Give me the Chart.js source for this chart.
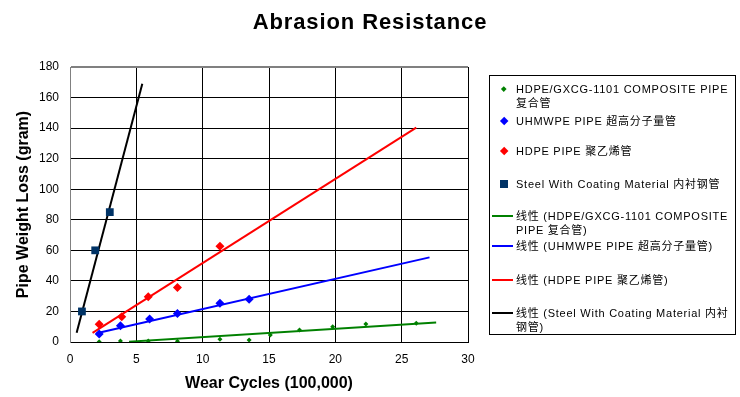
<!DOCTYPE html>
<html>
<head>
<meta charset="utf-8">
<script src="https://cdn.jsdelivr.net/npm/chart.js@4"></script>
<style>
  body { margin: 0; background: #fff; font-family: "Liberation Sans", Arial, "Noto Sans CJK SC", sans-serif; }
  #wrap { position: relative; width: 740px; height: 397px; }
  #chart { position: absolute; left: 0; top: 0; }
  #title { position: absolute; left: 0; top: 9px; width: 740px; text-align: center; font-weight: bold; font-size: 22px; letter-spacing: 0.9px; }
  #legend { position: absolute; left: 489px; top: 75px; width: 245px; height: 258px; border: 1px solid #000; font-size: 11px; letter-spacing: 0.75px; }
  .item { position: absolute; left: 0; line-height: 14px; }
  .item .txt { position: absolute; left: 26px; width: 225px; white-space: nowrap; }
  .sym { position: absolute; }
</style>
</head>
<body>
<div id="wrap">
  <canvas id="chart" width="740" height="397"></canvas>
  <div id="title">Abrasion Resistance</div>
  <div id="legend"></div>
</div>
<script>
  // measured points
  const compX = [2.2, 3.8, 5.9, 8.1, 11.3, 13.5, 15.1, 17.3, 19.8, 22.3, 26.1];
  const compY = [0.2, 0.7, 0.7, 0.5, 1.8, 1.3, 4.6, 7.9, 10.0, 11.8, 12.3];
  const uhmwX = [2.2, 3.8, 6.0, 8.1, 11.3, 13.5];
  const uhmwY = [5.3, 10.7, 15.1, 18.6, 25.4, 28.0];
  const hdpeX = [2.2, 3.9, 5.9, 8.1, 11.3];
  const hdpeY = [11.6, 16.6, 29.6, 35.7, 62.6];
  const steelX = [0.9, 1.9, 3.0];
  const steelY = [20, 60, 85];

  // trend line ends (linear fits as drawn)
  const compTrendX = [4.45, 27.6];
  const compTrendY = [0.2, 12.7];
  const uhmwTrendX = [2.0, 27.1];
  const uhmwTrendY = [5.7, 55.4];
  const hdpeTrendX = [1.7, 26.1];
  const hdpeTrendY = [6, 140.3];
  const steelTrendX = [0.5, 5.45];
  const steelTrendY = [6, 169];

  const xTicks = [0, 5, 10, 15, 20, 25, 30];
  const yTicks = [0, 20, 40, 60, 80, 100, 120, 140, 160, 180];

  const pts = (xs, ys) => xs.map((x, i) => ({ x: x, y: ys[i] }));

  const legendItems = [
    { type: "pt", color: "#008000", size: 5, shape: "dia", top: 6, text: "HDPE/GXCG-1101 COMPOSITE PIPE<br>复合管" },
    { type: "pt", color: "#0000ff", size: 9, shape: "dia", top: 38, text: "UHMWPE PIPE 超高分子量管" },
    { type: "pt", color: "#ff0000", size: 9, shape: "dia", top: 68, text: "HDPE PIPE 聚乙烯管" },
    { type: "pt", color: "#003366", size: 8, shape: "sq", top: 101, text: "Steel With Coating Material 内衬钢管" },
    { type: "ln", color: "#008000", top: 133, text: "线性 (HDPE/GXCG-1101 COMPOSITE<br>PIPE 复合管)" },
    { type: "ln", color: "#0000ff", top: 163, text: "线性 (UHMWPE PIPE 超高分子量管)" },
    { type: "ln", color: "#ff0000", top: 197, text: "线性 (HDPE PIPE 聚乙烯管)" },
    { type: "ln", color: "#000000", top: 230, text: "线性 (Steel With Coating Material 内衬<br>钢管)" },
  ];

  const legend = document.getElementById("legend");
  legendItems.forEach((it) => {
    const div = document.createElement("div");
    div.className = "item";
    div.style.top = it.top + "px";
    let sym = "";
    if (it.type === "ln") {
      sym = `<div class="sym" style="left:2px;top:6px;width:21px;height:2px;background:${it.color}"></div>`;
    } else if (it.shape === "sq") {
      sym = `<div class="sym" style="left:${14 - it.size / 2}px;top:${7 - it.size / 2}px;width:${it.size}px;height:${it.size}px;background:${it.color}"></div>`;
    } else {
      const s = it.size / 1.414;
      sym = `<div class="sym" style="left:${14 - s / 2}px;top:${7 - s / 2}px;width:${s}px;height:${s}px;background:${it.color};transform:rotate(45deg)"></div>`;
    }
    div.innerHTML = sym + `<div class="txt">${it.text}</div>`;
    legend.appendChild(div);
  });

  const lineDs = (label, xs, ys, color) => ({
    type: "line",
    label: label,
    data: pts(xs, ys),
    borderColor: color,
    borderWidth: 2,
    pointRadius: 0,
    showLine: true,
    fill: false,
  });

  new Chart(document.getElementById("chart"), {
    type: "scatter",
    data: {
      datasets: [
        { label: "HDPE/GXCG-1101 COMPOSITE PIPE 复合管", data: pts(compX, compY), pointStyle: "rectRot", radius: 2.5, backgroundColor: "#008000", borderColor: "#008000", borderWidth: 0 },
        { label: "UHMWPE PIPE 超高分子量管", data: pts(uhmwX, uhmwY), pointStyle: "rectRot", radius: 4.5, backgroundColor: "#0000ff", borderColor: "#0000ff", borderWidth: 0 },
        { label: "HDPE PIPE 聚乙烯管", data: pts(hdpeX, hdpeY), pointStyle: "rectRot", radius: 4.5, backgroundColor: "#ff0000", borderColor: "#ff0000", borderWidth: 0 },
        { label: "Steel With Coating Material 内衬钢管", data: pts(steelX, steelY), pointStyle: "rect", radius: 5.5, backgroundColor: "#003366", borderColor: "#003366", borderWidth: 0 },
        lineDs("线性 (HDPE/GXCG-1101 COMPOSITE PIPE 复合管)", compTrendX, compTrendY, "#008000"),
        lineDs("线性 (UHMWPE PIPE 超高分子量管)", uhmwTrendX, uhmwTrendY, "#0000ff"),
        lineDs("线性 (HDPE PIPE 聚乙烯管)", hdpeTrendX, hdpeTrendY, "#ff0000"),
        lineDs("线性 (Steel With Coating Material 内衬钢管)", steelTrendX, steelTrendY, "#000000"),
      ],
    },
    options: {
      responsive: false,
      animation: false,
      layout: { padding: { left: 10, right: 272, top: 67, bottom: 0 } },
      plugins: { legend: { display: false }, title: { display: false }, tooltip: { enabled: false } },
      scales: {
        x: {
          type: "linear",
          min: 0,
          max: 30,
          afterBuildTicks: (s) => { s.ticks = xTicks.map((v) => ({ value: v })); },
          afterFit: (s) => { s.height = 55; },
          grid: { color: "#000", lineWidth: 1, drawTicks: false },
          border: { color: "#000", width: 1 },
          ticks: { color: "#000", font: { family: "Liberation Sans", size: 12 }, padding: 10 },
          title: { display: true, text: "Wear Cycles (100,000)", color: "#000", font: { family: "Liberation Sans", size: 16, weight: "bold" }, padding: { top: 7 } },
        },
        y: {
          type: "linear",
          min: 0,
          max: 180,
          afterBuildTicks: (s) => { s.ticks = yTicks.map((v) => ({ value: v })); },
          afterFit: (s) => { s.width = 60; },
          grid: {
            color: (c) => (c.tick && c.tick.value === 180 ? "#808080" : "#000"),
            lineWidth: (c) => (c.tick && c.tick.value === 180 ? 2 : 1),
            drawTicks: false,
          },
          border: { color: "#808080", width: 1 },
          ticks: { color: "#000", font: { family: "Liberation Sans", size: 12 }, padding: 11 },
          title: { display: true, text: "Pipe Weight Loss (gram)", color: "#000", font: { family: "Liberation Sans", size: 16, weight: "bold" }, padding: { bottom: 4 } },
        },
      },
    },
  });
</script>
</body>
</html>
